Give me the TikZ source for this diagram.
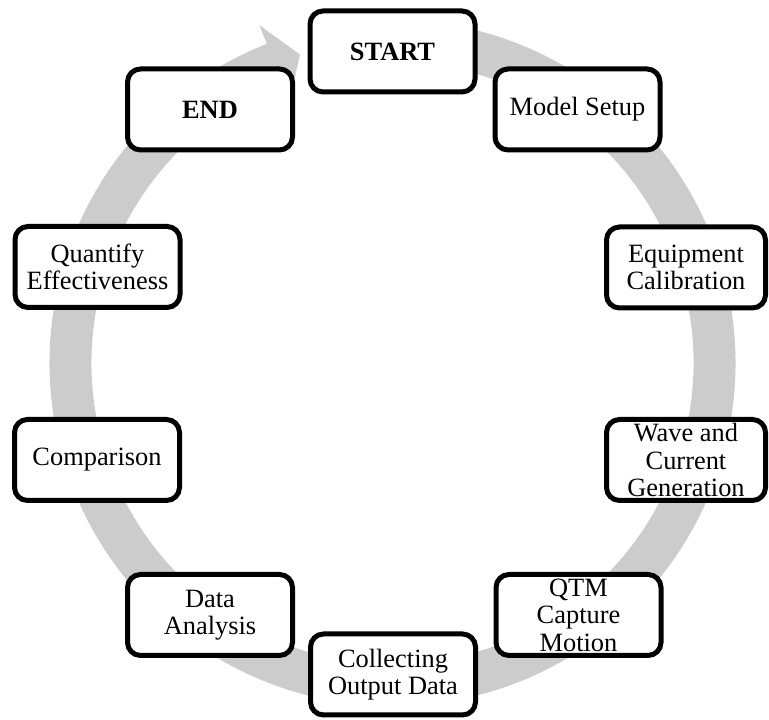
\documentclass[tikz,border=0pt]{standalone}
\usepackage{fontspec}
\setmainfont{Liberation Serif}
\definecolor{ringgray}{RGB}{204,204,204}
\tikzset{
  stepbox/.style={draw=black, fill=white, line width=5pt, rounded corners=13pt,
    minimum width=165pt, minimum height=81pt, inner sep=0pt, align=center,
    font=\fontsize{26.4}{27.5}\selectfont},
  narrowbox/.style={stepbox, minimum width=159pt},
  ring/.style={fill=ringgray, draw=none}
}
\begin{document}
\begin{tikzpicture}[x=1pt,y=1pt]
\useasboundingbox (0,0) rectangle (769,720);
% circular arrow
\begin{scope}[shift={(392.5pt,357pt)}]
\fill[ring] (97:343pt) arc[start angle=97, end angle=-248.5, radius=343pt]
  -- (-248.5:363pt) -- (-253.3:322pt) -- (-248.5:281pt) -- (-248.5:301pt)
  arc[start angle=-248.5, end angle=97, radius=301pt] -- cycle;
\end{scope}
% steps
\node[stepbox] (start) at (392.5,668.5) {\textbf{START}};
\node[stepbox] (model) at (577.5,610.5) {Model Setup};
\node[narrowbox] (equip) at (686,452.5) {Equipment\\Calibration};
\node[narrowbox] (wave) at (686,260) {Wave and\\Current\\Generation};
\node[stepbox] (qtm) at (578.5,105) {QTM\\Capture\\Motion};
\node[stepbox] (collect) at (393,45.5) {Collecting\\Output Data};
\node[stepbox] (data) at (210,105) {Data\\Analysis};
\node[stepbox] (comp) at (97,260) {Comparison};
\node[stepbox] (quant) at (97.5,453) {Quantify\\Effectiveness};
\node[stepbox] (end) at (210,610.5) {\textbf{END}};
\end{tikzpicture}
\end{document}
